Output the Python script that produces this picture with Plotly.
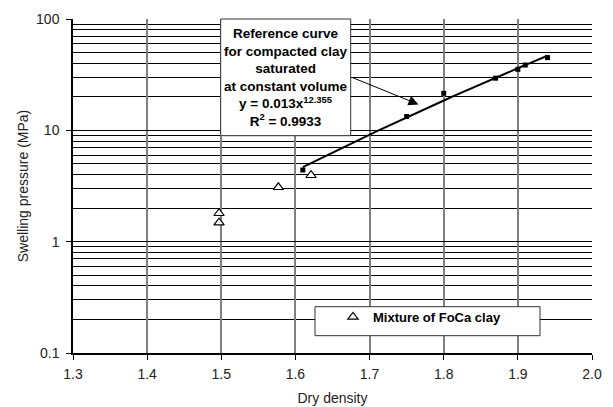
import numpy as np
import plotly.graph_objects as go

# Reference curve (compacted clay) measured points
ref_density = [1.61, 1.75, 1.80, 1.87, 1.90, 1.91, 1.94]
ref_pressure = [4.4, 13.3, 21.5, 29.4, 35.3, 38.6, 45.0]

# Mixture of FoCa clay
foca_density = [1.497, 1.497, 1.577, 1.621]
foca_pressure = [1.80, 1.48, 3.08, 3.95]

# Power-law fit shown on the chart: y = a * x^b
fit_a = 0.013
fit_b = 12.355
fit_x_range = [1.61, 1.94]

x_ticks = [1.3, 1.4, 1.5, 1.6, 1.7, 1.8, 1.9, 2.0]

fx = np.linspace(fit_x_range[0], fit_x_range[1], 40)
fy = fit_a * fx ** fit_b

FONT = "Liberation Sans, Arial, sans-serif"

fig = go.Figure()
fig.add_trace(go.Scatter(x=fx, y=fy, mode="lines",
                         line=dict(color="black", width=2),
                         showlegend=False, hoverinfo="skip"))
fig.add_trace(go.Scatter(x=ref_density, y=ref_pressure, mode="markers",
                         marker=dict(symbol="square", size=5, color="black"),
                         showlegend=False))
fig.add_trace(go.Scatter(x=foca_density, y=foca_pressure, mode="markers",
                         name="<b>Mixture of FoCa clay</b>",
                         marker=dict(symbol="triangle-up", size=9, color="white",
                                     line=dict(color="black", width=1.2))))

# page body has an 8px default margin
OFF = 8
W, H = 613 - OFF, 407 - OFF
# plot area in screen pixels
PL, PR, PT, PB = 73, 592, 19, 353
ml, mr, mt, mb = PL - OFF, 613 - PR, PT - OFF, 407 - PB
pw, ph = PR - PL, PB - PT

def px2paper_x(p):
    return (p - PL) / pw

def px2paper_y(p):
    return 1 - (p - PT) / ph

shapes = [
    # annotation box
    dict(type="rect", xref="paper", yref="paper",
         x0=px2paper_x(220.7), x1=px2paper_x(350.7),
         y0=px2paper_y(135.7), y1=px2paper_y(19),
         line=dict(color="#333333", width=1), fillcolor="white", layer="above"),
    # legend box
    dict(type="rect", xref="paper", yref="paper",
         x0=px2paper_x(315), x1=px2paper_x(540),
         y0=px2paper_y(335.7), y1=px2paper_y(306.7),
         line=dict(color="#333333", width=1), fillcolor="white", layer="above"),
]

annotations = [
    dict(xref="paper", yref="paper",
         x=px2paper_x(285.7), y=px2paper_y(77.5),
         xanchor="center", yanchor="middle", showarrow=False, align="center",
         text="<b>Reference curve<br>for compacted clay<br>saturated<br>at constant volume<br>"
              "y = 0.013x<sup>12.355</sup><br>R<sup>2</sup> = 0.9933</b>",
         font=dict(family=FONT, size=13.5, color="black")),
    dict(xref="x", yref="y", axref="x", ayref="y",
         x=1.766, y=np.log10(17.1), ax=1.6746, ay=np.log10(30.2),
         text="", showarrow=True, arrowhead=2, arrowsize=2, arrowwidth=1,
         arrowcolor="black"),
]

fig.update_layout(
    width=W, height=H,
    margin=dict(l=ml, r=mr, t=mt, b=mb, autoexpand=False),
    paper_bgcolor="white", plot_bgcolor="white",
    font=dict(family=FONT, size=14, color="#222222"),
    shapes=shapes, annotations=annotations,
    legend=dict(x=px2paper_x(333), y=px2paper_y(317), xanchor="left", yanchor="middle",
                bgcolor="rgba(0,0,0,0)", borderwidth=0,
                font=dict(family=FONT, size=13, color="black")),
    xaxis=dict(range=[1.3, 2.0], tickvals=x_ticks, ticktext=[f"{v:.1f}" for v in x_ticks],
               automargin=False,
               showgrid=True, gridcolor="#808080", gridwidth=1.5,
               showline=True, linecolor="black", linewidth=1.5,
               ticks="outside", ticklen=5, tickcolor="black", ticklabelstandoff=2,
               title=dict(text="Dry density", font=dict(size=14), standoff=13),
               zeroline=False),
    yaxis=dict(type="log", range=[-1, 2], dtick=1, automargin=False,
               showgrid=True, gridcolor="black", gridwidth=1,
               minor=dict(dtick="D1", showgrid=True, gridcolor="black", gridwidth=1, ticks=""),
               showline=True, linecolor="black", linewidth=1.5,
               ticks="outside", ticklen=5, tickcolor="black", ticklabelstandoff=4,
               title=dict(text="Swelling pressure (MPa)", font=dict(size=14), standoff=4),
               zeroline=False),
)

fig.write_html("out.html")
